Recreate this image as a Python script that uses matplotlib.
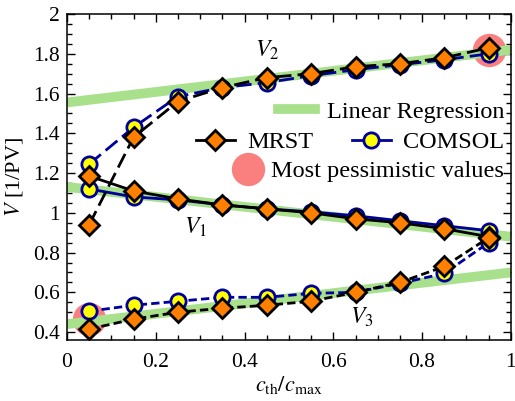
import numpy as np
import matplotlib
matplotlib.use("Agg")
import matplotlib.pyplot as plt
from matplotlib.ticker import MultipleLocator, FormatStrFormatter
from matplotlib.lines import Line2D

plt.rcParams['font.family'] = ['Liberation Serif', 'DejaVu Serif']
plt.rcParams['mathtext.fontset'] = 'stix'
plt.rcParams['font.size'] = 15

# threshold ratio c_th/c_max
x = [0.05, 0.15, 0.25, 0.35, 0.45, 0.55, 0.65, 0.75, 0.85, 0.95]

# MRST results
v1_mrst = [1.185, 1.11, 1.07, 1.04, 1.02, 1.0, 0.97, 0.95, 0.92, 0.88]
v2_mrst = [0.94, 1.38, 1.56, 1.63, 1.68, 1.70, 1.735, 1.75, 1.78, 1.83]
v3_mrst = [0.415, 0.465, 0.50, 0.52, 0.535, 0.555, 0.60, 0.65, 0.73, 0.875]

# COMSOL results
v1_comsol = [1.12, 1.08, 1.065, 1.04, 1.02, 1.005, 0.985, 0.96, 0.935, 0.91]
v2_comsol = [1.245, 1.43, 1.585, 1.63, 1.655, 1.69, 1.72, 1.745, 1.77, 1.80]
v3_comsol = [0.505, 0.535, 0.555, 0.575, 0.575, 0.595, 0.60, 0.645, 0.695, 0.85]

# linear regression end points
reg_x = [0.0, 1.0]
reg_v1 = [1.13, 0.88]
reg_v2 = [1.555, 1.82]
reg_v3 = [0.44, 0.70]

# most pessimistic values
pess_x = [0.05, 0.95]
pess_y = [0.465, 1.82]

green = '#a8e08c'
blue = '#00009c'
orange = '#ff8000'
red = '#fa8080'

fig = plt.figure(figsize=(5.15, 4.01), dpi=100)
ax = fig.add_axes([0.130, 0.152, 0.862, 0.813])

ax.plot(pess_x, pess_y, 'o', ms=24, color=red, mec='none', zorder=1)

for reg in [reg_v1, reg_v2, reg_v3]:
    ax.plot(reg_x, reg, color=green, lw=7, solid_capstyle='butt', zorder=2)

mk_c = dict(marker='o', ms=11, mfc='yellow', mec=blue, mew=2, color=blue, lw=2)
mk_m = dict(marker='D', ms=10, mfc=orange, mec='black', mew=2, color='black', lw=2)

ax.plot(x, v1_comsol, '-', zorder=3, **mk_c)
ax.plot(x, v1_mrst, '-', zorder=4, **mk_m)
ax.plot(x, v2_comsol, '--', dashes=(5.5, 2.2), zorder=3, **mk_c)
ax.plot(x, v2_mrst, '--', dashes=(5.5, 2.2), zorder=4, **mk_m)
ax.plot(x, v3_comsol, '--', dashes=(3, 1.5), zorder=3, **mk_c)
ax.plot(x, v3_mrst, '--', dashes=(3, 1.5), zorder=4, **mk_m)

ax.text(0.45, 1.815, '$V_2$', ha='center', va='center', fontsize=17)
ax.text(0.29, 0.925, '$V_1$', ha='center', va='center', fontsize=17)
ax.text(0.665, 0.475, '$V_3$', ha='center', va='center', fontsize=17)

ax.set_xlim(0, 1)
ax.set_ylim(0.36, 2)
ax.xaxis.set_major_locator(MultipleLocator(0.2))
ax.xaxis.set_minor_locator(MultipleLocator(0.05))
ax.yaxis.set_major_locator(MultipleLocator(0.2))
ax.yaxis.set_minor_locator(MultipleLocator(0.05))
ax.xaxis.set_major_formatter(FormatStrFormatter('%g'))
ax.yaxis.set_major_formatter(FormatStrFormatter('%g'))
ax.tick_params(which='both', direction='in', top=True, right=True, width=1,
               labelsize=15.5)
ax.tick_params(axis='x', which='major', pad=9)
ax.tick_params(axis='y', which='major', pad=5)
ax.tick_params(which='major', length=6)
ax.tick_params(which='minor', length=3.5)
for s in ax.spines.values():
    s.set_linewidth(1.1)

ax.set_xlabel(r'$c_{\rm th}/c_{\rm max}$', fontsize=16, labelpad=2)
ax.set_ylabel(r'$V$ [1/PV]', fontsize=16, labelpad=6)

# legend rows
h_reg = Line2D([], [], color=green, lw=7)
h_m = Line2D([], [], **mk_m)
h_c = Line2D([], [], **mk_c)
h_p = Line2D([], [], marker='o', ms=24, color=red, mec='none', ls='none')

common = dict(frameon=False, loc='center right', borderpad=0, borderaxespad=0,
              handletextpad=0.5, fontsize=17.5)
leg1 = ax.legend([h_reg], ['Linear Regression'], bbox_to_anchor=(0.985, 0.70),
                 handlelength=1.5, **common)
ax.add_artist(leg1)
leg2 = ax.legend([h_m, h_c], ['MRST', 'COMSOL'], bbox_to_anchor=(0.985, 0.607),
                 ncol=2, handlelength=1.6, columnspacing=1.6, **common)
ax.add_artist(leg2)
leg3 = ax.legend([h_p], ['Most pessimistic values'], bbox_to_anchor=(0.985, 0.518),
                 handlelength=0.9, **common)

fig.savefig('out.png', dpi=100)
